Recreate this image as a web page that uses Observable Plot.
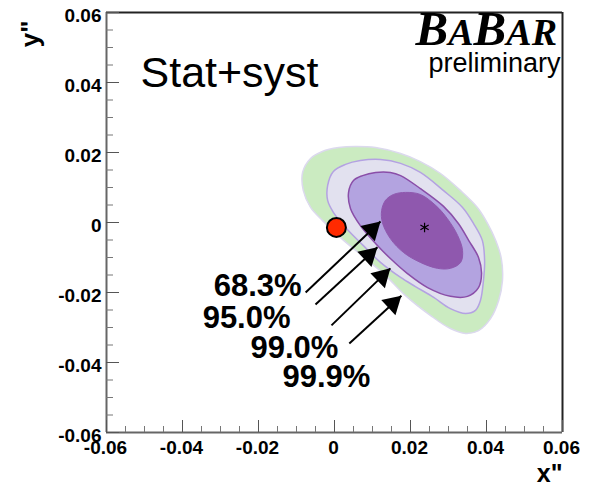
<!DOCTYPE html>
<html>
<head>
<meta charset="utf-8">
<script src="https://cdn.jsdelivr.net/npm/d3@7"></script>
<script src="https://cdn.jsdelivr.net/npm/@observablehq/plot@0.6"></script>
<style>
  html, body { margin: 0; padding: 0; background: #fff; }
  #chart { width: 592px; height: 486px; }
</style>
</head>
<body>
<div id="chart"></div>
<script>
// Axis ticks (x'' and y'' share the same range)
const majorTicks = [-0.06, -0.04, -0.02, 0, 0.02, 0.04, 0.06];
const tickLabels = ["-0.06", "-0.04", "-0.02", "0", "0.02", "0.04", "0.06"];
const minorTicks = [-0.055, -0.05, -0.045, -0.035, -0.03, -0.025, -0.015, -0.01, -0.005,
                    0.005, 0.01, 0.015, 0.025, 0.03, 0.035, 0.045, 0.05, 0.055];

// Confidence-level contours, [x'', y''] boundary points
const contour999 = [
  [-0.0084, 0.0143], [-0.0063, 0.0183], [-0.0032, 0.0203], [0.0011, 0.0214], [0.0055, 0.0217],
  [0.0108, 0.0214], [0.0174, 0.0197], [0.0226, 0.0174], [0.0279, 0.0140], [0.0332, 0.0091],
  [0.0376, 0.0043], [0.0403, -0.0003], [0.0424, -0.0051], [0.0439, -0.0103], [0.0442, -0.0166],
  [0.0432, -0.0223], [0.0411, -0.0274], [0.0379, -0.0309], [0.0345, -0.0317], [0.0305, -0.0303],
  [0.0253, -0.0266], [0.0187, -0.0209], [0.0134, -0.0151], [0.0082, -0.0103], [0.0024, -0.0051],
  [-0.0032, 0.0006], [-0.0063, 0.0043], [-0.0082, 0.0091]
];
const contour990 = [
  [-0.0018, 0.0106], [-0.0003, 0.0146], [0.0029, 0.0166], [0.0068, 0.0177], [0.0121, 0.0180],
  [0.0174, 0.0169], [0.0226, 0.0143], [0.0287, 0.0091], [0.0337, 0.0043], [0.0366, -0.0003],
  [0.0389, -0.0051], [0.0395, -0.0109], [0.0392, -0.0166], [0.0384, -0.0223], [0.0371, -0.0251],
  [0.0345, -0.0260], [0.0305, -0.0246], [0.0261, -0.0214], [0.0213, -0.0183], [0.0174, -0.0157],
  [0.0121, -0.0114], [0.0076, -0.0066], [0.0029, -0.0014], [-0.0003, 0.0029], [-0.0018, 0.0063]
];
const contour950 = [
  [0.0037, 0.0086], [0.0050, 0.0120], [0.0074, 0.0134], [0.0108, 0.0143], [0.0147, 0.0143],
  [0.0174, 0.0134], [0.0226, 0.0097], [0.0287, 0.0046], [0.0326, -0.0003], [0.0353, -0.0051],
  [0.0379, -0.0100], [0.0387, -0.0146], [0.0379, -0.0186], [0.0350, -0.0211], [0.0305, -0.0211],
  [0.0245, -0.0186], [0.0192, -0.0146], [0.0147, -0.0103], [0.0108, -0.0060], [0.0068, -0.0009],
  [0.0042, 0.0040]
];
const contour683 = [
  [0.0124, 0.0034], [0.0134, 0.0063], [0.0155, 0.0080], [0.0187, 0.0086], [0.0226, 0.0080],
  [0.0266, 0.0049], [0.0297, 0.0011], [0.0324, -0.0037], [0.0337, -0.0080], [0.0332, -0.0114],
  [0.0305, -0.0131], [0.0271, -0.0131], [0.0226, -0.0114], [0.0182, -0.0086], [0.0147, -0.0046],
  [0.0126, 0.0000]
];

// Best-fit point and the no-mixing point
const bestFit = [{x: 0.0237, y: -0.0014}];
const noMixing = [{x: 0.0005, y: -0.0014}];

// Confidence-level labels and the arrows from each label to its contour
const clLabels = ["68.3%", "95.0%", "99.0%", "99.9%"];
const labelX = [-0.0318, -0.0347, -0.0221, -0.0137];
const labelY = [-0.0209, -0.0300, -0.0386, -0.0471];
const arrowX1 = [-0.0076, -0.0050, -0.0008, 0.0039];
const arrowY1 = [-0.0200, -0.0234, -0.0294, -0.0346];
const arrowX2 = [0.0121, 0.0113, 0.0147, 0.0176];
const arrowY2 = [0.0003, -0.0071, -0.0131, -0.0209];

const W = 592, H = 486;
const mLeft = 106, mRight = 30, mTop = 12, mBottom = 54;
const domain = [-0.06, 0.06];
const kx = (W - mLeft - mRight) / (domain[1] - domain[0]);
const ky = (H - mTop - mBottom) / (domain[1] - domain[0]);

const labels = clLabels.map((t, i) => ({text: t, x: labelX[i], y: labelY[i]}));
const arrows = clLabels.map((t, i) => ({
  x1: arrowX1[i], y1: arrowY1[i], x2: arrowX2[i], y2: arrowY2[i],
  angle: Math.atan2((arrowX2[i] - arrowX1[i]) * kx, (arrowY2[i] - arrowY1[i]) * ky) * 180 / Math.PI
}));

// Filled arrowhead with its tip at the symbol origin, pointing up
const arrowHead = {
  draw(context, size) {
    const h = Math.sqrt(size);
    const w = 1.18 * h;
    context.moveTo(0, 0);
    context.lineTo(w / 2, h);
    context.lineTo(-w / 2, h);
    context.closePath();
  }
};

const px = d => d[0], py = d => d[1];
const bold = {fontWeight: "bold", fill: "black"};

const chart = Plot.plot({
  width: W,
  height: H,
  marginLeft: mLeft,
  marginRight: mRight,
  marginTop: mTop,
  marginBottom: mBottom,
  style: {fontFamily: "'Liberation Sans', Arial, Helvetica, sans-serif", background: "#fff", overflow: "visible"},
  x: {domain, axis: null},
  y: {domain, axis: null},
  marks: [
    // contours, outermost first
    Plot.line(contour999, {x: px, y: py, curve: "catmull-rom-closed", fill: "#cbebc1", stroke: "#dcd9ee", strokeWidth: 1.5}),
    Plot.line(contour990, {x: px, y: py, curve: "catmull-rom-closed", fill: "#e2e1ef", stroke: "#b4a2e2", strokeWidth: 1.5}),
    Plot.line(contour950, {x: px, y: py, curve: "catmull-rom-closed", fill: "#b3a3e0", stroke: "#8a4ea8", strokeWidth: 1.5}),
    Plot.line(contour683, {x: px, y: py, curve: "catmull-rom-closed", fill: "#8f58ae", stroke: "#8f58ae", strokeWidth: 1}),
    Plot.dot(bestFit, {x: "x", y: "y", symbol: "asterisk", r: 4.5, stroke: "black", strokeWidth: 1.2}),
    Plot.dot(noMixing, {x: "x", y: "y", r: 9.5, fill: "#ff2a00", stroke: "black", strokeWidth: 2}),

    // arrows
    Plot.link(arrows, {x1: "x1", y1: "y1", x2: "x2", y2: "y2", stroke: "black", strokeWidth: 2}),
    Plot.dot(arrows, {x: "x2", y: "y2", rotate: "angle", symbol: arrowHead, r: 10, fill: "black", stroke: "none"}),
    Plot.text(labels, {x: "x", y: "y", text: "text", textAnchor: "start", lineAnchor: "bottom", fontSize: 31, ...bold}),

    // frame
    Plot.ruleY([domain[1]], {stroke: "#222", strokeWidth: 2}),
    Plot.ruleX([domain[1]], {stroke: "#222", strokeWidth: 2}),
    Plot.ruleX([domain[0]], {stroke: "#666", strokeWidth: 2}),
    Plot.ruleY([domain[0]], {stroke: "#666", strokeWidth: 2}),

    // inward ticks
    Plot.axisX(majorTicks, {anchor: "bottom", tickSize: -12, tickFormat: () => "", stroke: "#555"}),
    Plot.axisX(minorTicks, {anchor: "bottom", tickSize: -6, tickFormat: () => "", stroke: "#777"}),
    Plot.axisY(majorTicks, {anchor: "left", tickSize: -13, tickFormat: () => "", stroke: "#555"}),
    Plot.axisY(minorTicks, {anchor: "left", tickSize: -7, tickFormat: () => "", stroke: "#777"}),

    // tick labels
    Plot.axisX(majorTicks, {anchor: "bottom", tickSize: 0, tickPadding: 8, dx: -1, tickFormat: (d, i) => tickLabels[i], fontSize: 19, ...bold}),
    Plot.axisY(majorTicks, {anchor: "left", tickSize: 0, tickPadding: 5, dy: 3, tickFormat: (d, i) => tickLabels[i], fontSize: 19, ...bold}),

    // axis titles
    Plot.text(['x"'], {frameAnchor: "bottom-right", dy: 49, textAnchor: "end", lineAnchor: "bottom", fontSize: 25, ...bold}),
    Plot.text(['y"'], {frameAnchor: "top-left", dx: -68, dy: 8, rotate: -90, textAnchor: "end", lineAnchor: "bottom", fontSize: 26, ...bold}),

    // legend text
    Plot.text(["Stat+syst"], {frameAnchor: "top-left", dx: 34, dy: 74, textAnchor: "start", lineAnchor: "bottom", fontSize: 43, fill: "black"}),
    Plot.text(["preliminary"], {frameAnchor: "top-right", dx: -2, dy: 59, textAnchor: "end", lineAnchor: "bottom", fontSize: 27, fill: "black"})
  ]
});

// BaBar logo: large B's with small-capital A, A, R
const logo = d3.select(chart).append("text")
  .attr("x", 557).attr("y", 45)
  .attr("text-anchor", "end")
  .attr("font-family", "'Liberation Serif', 'Times New Roman', serif")
  .attr("font-style", "italic")
  .attr("font-weight", "bold")
  .attr("fill", "black");
[["B", 49], ["A", 38], ["B", 49], ["A", 38], ["R", 38]].forEach(([ch, size]) => {
  logo.append("tspan").attr("font-size", size).text(ch);
});

document.getElementById("chart").append(chart);
</script>
</body>
</html>
